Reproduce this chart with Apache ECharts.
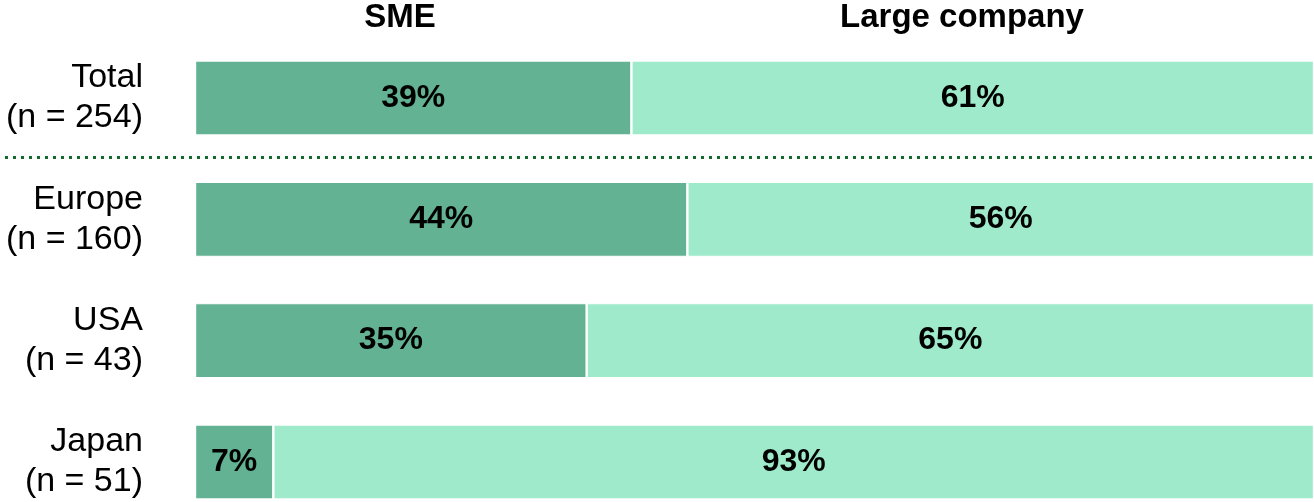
<!DOCTYPE html>
<html>
<head>
<meta charset="utf-8">
<script src="https://cdn.jsdelivr.net/npm/echarts@6/dist/echarts.min.js"></script>
<style>
html,body{margin:0;padding:0;background:#fff;}
#c{width:1314px;height:502px;}
</style>
</head>
<body>
<div id="c"></div>
<script>
const categories = ['Total\n(n = 254)', 'Europe\n(n = 160)', 'USA\n(n = 43)', 'Japan\n(n = 51)'];
const smeValues = [39, 44, 35, 7];
const largeValues = [61, 56, 65, 93];
const seriesNames = ['SME', 'Large company'];

const FONT = '"Liberation Sans", Arial, Helvetica, sans-serif';
const chart = echarts.init(document.getElementById('c'), null, {renderer: 'canvas'});

const labelStyle = {
  show: true,
  position: 'inside',
  formatter: p => p.value + '%',
  color: '#000',
  fontFamily: FONT,
  fontWeight: 'bold',
  fontSize: 32
};

chart.setOption({
  animation: false,
  grid: {left: 195, right: 0, top: 98, bottom: 40, containLabel: false},
  xAxis: {type: 'value', min: 0, max: 100, show: false},
  yAxis: {
    type: 'category',
    data: categories,
    inverse: true,
    boundaryGap: false,
    axisLine: {show: false},
    axisTick: {show: false},
    splitLine: {show: false},
    axisLabel: {
      margin: 52,
      color: '#000',
      fontFamily: FONT,
      fontSize: 34,
      lineHeight: 40,
      align: 'right'
    }
  },
  series: [
    {
      name: seriesNames[0], type: 'bar', stack: 'a', data: smeValues, barWidth: 75,
      itemStyle: {color: '#62B293', borderColor: '#fff', borderWidth: 1.2},
      label: labelStyle
    },
    {
      name: seriesNames[1], type: 'bar', stack: 'a', data: largeValues, barWidth: 75,
      itemStyle: {color: '#9EEACB', borderColor: '#fff', borderWidth: 1.2},
      label: labelStyle
    }
  ]
});

const y0 = chart.convertToPixel({yAxisIndex: 0}, categories[0]);
const y1 = chart.convertToPixel({yAxisIndex: 0}, categories[1]);
const sepY = Math.round((y0 + y1) / 2) - 1.5;

chart.setOption({
  graphic: [
    {type: 'text', x: 400, y: 18, style: {text: seriesNames[0], fill: '#000', font: 'bold 33px ' + FONT, textAlign: 'center', textVerticalAlign: 'middle'}},
    {type: 'text', x: 962, y: 18, style: {text: seriesNames[1], fill: '#000', font: 'bold 33px ' + FONT, textAlign: 'center', textVerticalAlign: 'middle'}},
    {type: 'line', shape: {x1: 5, y1: sepY, x2: 1314, y2: sepY}, style: {stroke: '#146B2E', lineWidth: 3, lineDash: [3, 5]}}
  ]
});
</script>
</body>
</html>
